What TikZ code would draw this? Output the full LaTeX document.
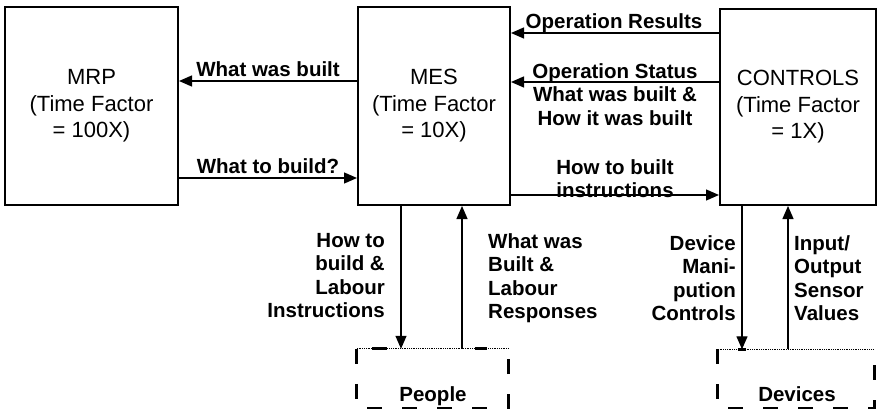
\documentclass[tikz,border=0pt]{standalone}
\usepackage{fontspec}
\setmainfont{Liberation Sans}
\usetikzlibrary{arrows.meta}

\begin{document}
\begin{tikzpicture}[x=1pt,y=-1pt,
  block/.style={draw, line width=2pt, inner sep=0pt, align=center,
    font=\fontsize{22}{26.5}\selectfont},
  flow/.style={line width=1.3pt, -{Triangle[length=13pt,width=11pt]}},
  lbl/.style={font=\bfseries\fontsize{20.5}{23.5}\selectfont, inner sep=0pt},
  frame/.style={minimum width=#1, minimum height=59pt, inner sep=0pt},
  dashside/.style={line width=3pt, dash pattern=on 15pt off 20pt},
  dashbit/.style={line width=3pt},
  dotline/.style={line width=0.8pt, densely dotted}
]
\useasboundingbox (0,0) rectangle (881,409);

% main system levels
\node[block, minimum width=173pt, minimum height=198pt] (mrp) at (91.5,106) {MRP\\(Time Factor\\= 100X)};
\node[block, minimum width=152pt, minimum height=198pt] (mes) at (434,106) {MES\\(Time Factor\\= 10X)};
\node[block, minimum width=156pt, minimum height=196pt] (ctl) at (798,107) {CONTROLS\\(Time Factor\\= 1X)};

% people and devices frames
\node[frame=151pt] (people) at (432.5,378.5) {};
\node[frame=156pt] (devices) at (796,379) {};

\draw[dashside] (people.north west) -- (people.south west) -- (people.south east) -- (people.north east);
\draw[dotline] (people.north west) -- (people.north east);
\draw[dashbit] (people.north -| 372,0) -- (people.north -| 387,0);
\draw[dashbit] (people.north -| 475,0) -- (people.north -| 487,0);

\draw[dashside] (devices.north west) -- (devices.south west) -- (devices.south east) -- (devices.north east);
\draw[dotline] (devices.north west) -- (devices.north east);
\draw[dashbit] (devices.north -| 738,0) -- (devices.north -| 746,0);

\node[lbl, anchor=base] (plab) at (433,401) {People};
\node[lbl, anchor=base] (dlab) at (797,401) {Devices};

% horizontal flows
\draw[flow] (mes.west |- 0,81) -- (mrp.east |- 0,81);
\draw[flow] (mrp.east |- 0,178) -- (mes.west |- 0,178);
\draw[flow] (ctl.west |- 0,33) -- (mes.east |- 0,33);
\draw[flow] (ctl.west |- 0,82) -- (mes.east |- 0,82);
\draw[flow] (mes.east |- 0,195) -- (ctl.west |- 0,195);

% vertical flows
\draw[flow] (mes.south -| 401,0) -- (people.north -| 401,0);
\draw[flow] (people.north -| 462,0) -- (mes.south -| 462,0);
\draw[flow] (ctl.south -| 742,0) -- (devices.north -| 742,0);
\draw[flow] (devices.north -| 788,0) -- (ctl.south -| 788,0);

% flow labels
\node[lbl, anchor=base] (l1) at (268,77) {What was built};
\node[lbl, anchor=base] (l2) at (268,173) {What to build?};
\node[lbl, anchor=base] (l3) at (614,29) {Operation Results};
\node[lbl, align=center, anchor=north] (l4) at (615,63) {Operation Status\\What was built \&\\How it was built};
\node[lbl, align=center, anchor=north] (l5) at (615,159) {How to built\\instructions};
\node[lbl, align=right, anchor=north east] (l6) at (385,233) {How to\\build \&\\Labour\\Instructions};
\node[lbl, align=left, anchor=north west] (l7) at (488,233) {What was\\Built \&\\Labour\\Responses};
\node[lbl, align=right, anchor=north east] (l8) at (736,235) {Device\\Mani-\\pution\\Controls};
\node[lbl, align=left, anchor=north west] (l9) at (794,235) {Input/\\Output\\Sensor\\Values};
\end{tikzpicture}
\end{document}
